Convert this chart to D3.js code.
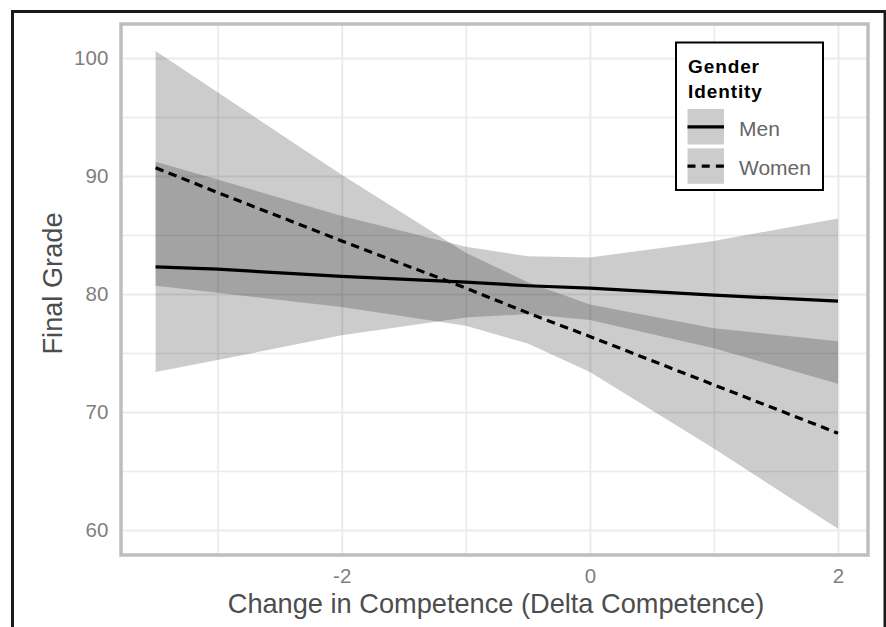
<!DOCTYPE html>
<html>
<head>
<meta charset="utf-8">
<script src="https://cdn.jsdelivr.net/npm/d3@7"></script>
<style>
  body { margin: 0; background: #fff; }
  text { font-family: 'Liberation Sans', Arial, Helvetica, sans-serif; }
</style>
</head>
<body>
<div id="chart"></div>
<script>
// FINAL GRADE vs DELTA COMPETENCE, by gender

// DATA
let xPoints = [-3.5, -3, -2, -1, -0.5, 0, 1, 2];
let menFit = [82.3, 82.1, 81.5, 81.0, 80.7, 80.5, 79.9, 79.4];
let menLower = [73.4, 74.4, 76.5, 78.0, 78.3, 77.8, 75.4, 72.4];
let menUpper = [91.2, 89.7, 86.6, 84.0, 83.2, 83.1, 84.5, 86.4];
let womenFit = [90.7, 88.6, 84.5, 80.5, 78.4, 76.4, 72.3, 68.2];
let womenLower = [80.7, 80.1, 78.9, 77.3, 75.8, 73.4, 66.9, 60.1];
let womenUpper = [100.6, 97.1, 90.1, 83.5, 81.0, 79.1, 77.1, 76.0];

let groups = ['Men', 'Women'];
let xMajor = [-2, 0, 2];
let xMinor = [-3, -1, 1];
let yMajor = [60, 70, 80, 90, 100];
let yMinor = [65, 75, 85, 95];

// CONST
let width = 886;
let height = 627;
let panel = { left: 121, right: 868, top: 24, bottom: 555 };

let series = [
  { name: 'Women', fit: womenFit, lower: womenLower, upper: womenUpper, dash: '8.5,5.5' },
  { name: 'Men', fit: menFit, lower: menLower, upper: menUpper, dash: null },
];

let xScale = d3.scaleLinear().domain([-2, 2]).range([341.7, 838]);
let yScale = d3.scaleLinear().domain([60, 100]).range([530, 58]);

let svg = d3
  .select('#chart')
  .append('svg')
  .attr('width', width)
  .attr('height', height);

// outer frame (runs off the bottom of the image)
svg
  .append('rect')
  .attr('x', 12.5)
  .attr('y', 11.5)
  .attr('width', 872.5)
  .attr('height', 700)
  .attr('fill', 'none')
  .attr('stroke', '#1a1a1a')
  .attr('stroke-width', 3);

// grid lines
let grid = svg.append('g').attr('class', 'grid');

function vGrid(values, w) {
  grid
    .append('g')
    .attr('transform', `translate(0,${panel.bottom})`)
    .call(
      d3
        .axisBottom(xScale)
        .tickValues(values)
        .tickSize(-(panel.bottom - panel.top))
        .tickFormat('')
    )
    .call(g => g.select('.domain').remove())
    .call(g => g.selectAll('line').attr('stroke', '#ebebeb').attr('stroke-width', w));
}
function hGrid(values, w) {
  grid
    .append('g')
    .attr('transform', `translate(${panel.left},0)`)
    .call(
      d3
        .axisLeft(yScale)
        .tickValues(values)
        .tickSize(-(panel.right - panel.left))
        .tickFormat('')
    )
    .call(g => g.select('.domain').remove())
    .call(g => g.selectAll('line').attr('stroke', '#ebebeb').attr('stroke-width', w));
}
vGrid(xMinor, 1.6);
hGrid(yMinor, 1.6);
vGrid(xMajor, 2);
hGrid(yMajor, 2);

// confidence bands
let area = d3
  .area()
  .x((d, i) => xScale(xPoints[i]))
  .y0(d => yScale(d[0]))
  .y1(d => yScale(d[1]));

svg
  .selectAll('.band')
  .data(series)
  .join('path')
  .attr('class', 'band')
  .attr('d', s => area(s.lower.map((l, i) => [l, s.upper[i]])))
  .attr('fill', '#000')
  .attr('fill-opacity', 0.2);

// fitted lines
let line = d3
  .line()
  .x((d, i) => xScale(xPoints[i]))
  .y(d => yScale(d));

svg
  .selectAll('.fit')
  .data(series)
  .join('path')
  .attr('class', 'fit')
  .attr('d', s => line(s.fit))
  .attr('fill', 'none')
  .attr('stroke', '#000')
  .attr('stroke-width', 3.2)
  .attr('stroke-dasharray', s => s.dash);

// panel border
svg
  .append('rect')
  .attr('x', panel.left)
  .attr('y', panel.top)
  .attr('width', panel.right - panel.left)
  .attr('height', panel.bottom - panel.top)
  .attr('fill', 'none')
  .attr('stroke', '#bebebe')
  .attr('stroke-width', 3.5);

// AXES
let plain = d => String(d);

svg
  .append('g')
  .attr('class', 'axis x-axis')
  .attr('transform', `translate(0,${panel.bottom})`)
  .call(d3.axisBottom(xScale).tickValues(xMajor).tickFormat(plain).tickSize(0).tickPadding(13))
  .call(g => g.select('.domain').remove())
  .call(g =>
    g.selectAll('text').attr('font-size', 20.5).attr('fill', '#7f7f7f').attr('font-family', null)
  );

svg
  .append('g')
  .attr('class', 'axis y-axis')
  .attr('transform', `translate(${panel.left},0)`)
  .call(d3.axisLeft(yScale).tickValues(yMajor).tickFormat(plain).tickSize(0).tickPadding(12.7))
  .call(g => g.select('.domain').remove())
  .call(g =>
    g.selectAll('text').attr('font-size', 20.5).attr('fill', '#7f7f7f').attr('font-family', null)
  );

svg
  .append('text')
  .attr('x', (panel.left + panel.right) / 2 + 1.5)
  .attr('y', 613.3)
  .attr('text-anchor', 'middle')
  .attr('font-size', 27.2)
  .attr('fill', '#4d4d4d')
  .text('Change in Competence (Delta Competence)');

svg
  .append('text')
  .attr('transform', `translate(61.5,${(panel.top + panel.bottom) / 2 - 6}) rotate(-90)`)
  .attr('text-anchor', 'middle')
  .attr('font-size', 27.2)
  .attr('fill', '#4d4d4d')
  .text('Final Grade');

// LEGEND
let legend = svg.append('g').attr('transform', 'translate(676,42.5)');

legend
  .append('rect')
  .attr('width', 147)
  .attr('height', 147.5)
  .attr('fill', '#fff')
  .attr('stroke', '#000')
  .attr('stroke-width', 2);

legend
  .selectAll('.ltitle')
  .data(['Gender', 'Identity'])
  .join('text')
  .attr('class', 'ltitle')
  .attr('x', 12)
  .attr('y', (d, i) => 30 + i * 25.3)
  .attr('font-size', 19)
  .attr('font-weight', 'bold')
  .attr('letter-spacing', 0.9)
  .attr('fill', '#000')
  .text(d => d);

let keys = legend
  .selectAll('.key')
  .data(groups)
  .join('g')
  .attr('class', 'key')
  .attr('transform', (d, i) => `translate(11.5,${66.5 + i * 39.3})`);

keys
  .append('rect')
  .attr('width', 36.5)
  .attr('height', 35.5)
  .attr('fill', '#000')
  .attr('fill-opacity', 0.2);

keys
  .append('line')
  .attr('x1', 0)
  .attr('x2', 36.5)
  .attr('y1', 17.8)
  .attr('y2', 17.8)
  .attr('stroke', '#000')
  .attr('stroke-width', 3.2)
  .attr('stroke-dasharray', d => (d === 'Women' ? '8,6.2' : null));

keys
  .append('text')
  .attr('x', 51.5)
  .attr('y', 26.5)
  .attr('font-size', 21)
  .attr('fill', '#666')
  .text(d => d);
</script>
</body>
</html>
